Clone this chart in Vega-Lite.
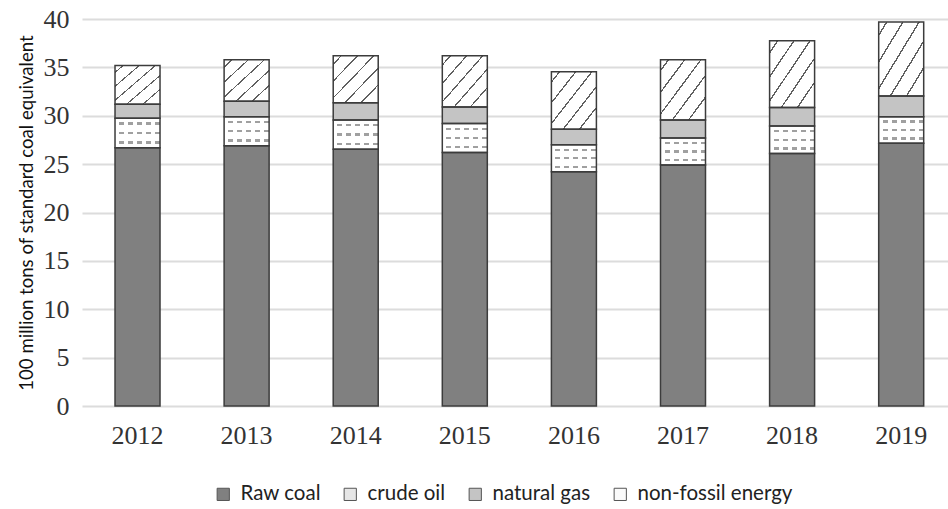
{
  "$schema": "https://vega.github.io/schema/vega-lite/v6.json",
  "width": 866,
  "height": 387,
  "autosize": {"type": "none"},
  "padding": {"left": 82, "top": 19, "right": 0, "bottom": 103},
  "background": "white",
  "config": {"view": {"stroke": null}},
  "data": {
    "values": [
      {"year": "2012", "source": "Raw coal", "value": 26.7},
      {"year": "2012", "source": "crude oil", "value": 3.05},
      {"year": "2012", "source": "natural gas", "value": 1.45},
      {"year": "2012", "source": "non-fossil energy", "value": 4.0},
      {"year": "2013", "source": "Raw coal", "value": 26.9},
      {"year": "2013", "source": "crude oil", "value": 3.0},
      {"year": "2013", "source": "natural gas", "value": 1.6},
      {"year": "2013", "source": "non-fossil energy", "value": 4.3},
      {"year": "2014", "source": "Raw coal", "value": 26.55},
      {"year": "2014", "source": "crude oil", "value": 3.0},
      {"year": "2014", "source": "natural gas", "value": 1.8},
      {"year": "2014", "source": "non-fossil energy", "value": 4.85},
      {"year": "2015", "source": "Raw coal", "value": 26.2},
      {"year": "2015", "source": "crude oil", "value": 3.0},
      {"year": "2015", "source": "natural gas", "value": 1.7},
      {"year": "2015", "source": "non-fossil energy", "value": 5.3},
      {"year": "2016", "source": "Raw coal", "value": 24.2},
      {"year": "2016", "source": "crude oil", "value": 2.8},
      {"year": "2016", "source": "natural gas", "value": 1.6},
      {"year": "2016", "source": "non-fossil energy", "value": 5.95},
      {"year": "2017", "source": "Raw coal", "value": 24.9},
      {"year": "2017", "source": "crude oil", "value": 2.8},
      {"year": "2017", "source": "natural gas", "value": 1.85},
      {"year": "2017", "source": "non-fossil energy", "value": 6.25},
      {"year": "2018", "source": "Raw coal", "value": 26.1},
      {"year": "2018", "source": "crude oil", "value": 2.85},
      {"year": "2018", "source": "natural gas", "value": 1.9},
      {"year": "2018", "source": "non-fossil energy", "value": 6.9},
      {"year": "2019", "source": "Raw coal", "value": 27.15},
      {"year": "2019", "source": "crude oil", "value": 2.75},
      {"year": "2019", "source": "natural gas", "value": 2.15},
      {"year": "2019", "source": "non-fossil energy", "value": 7.65}
    ]
  },
  "transform": [
    {"stack": "value", "groupby": ["year"], "sort": [{"field": "source", "order": "ascending"}], "as": ["v0", "v1"]}
  ],
  "encoding": {
    "x": {
      "field": "year",
      "type": "ordinal",
      "scale": {"paddingInner": 0.5875, "paddingOuter": 0.2627, "align": 0.576},
      "axis": {
        "title": null,
        "labelAngle": 0,
        "domain": false,
        "ticks": false,
        "grid": false,
        "labelFont": "Liberation Serif",
        "labelFontSize": 26,
        "labelColor": "#333333",
        "labelPadding": 16
      }
    },
    "y": {
      "field": "v1",
      "type": "quantitative",
      "scale": {"domain": [0, 40], "nice": false},
      "axis": {
        "values": [0, 5, 10, 15, 20, 25, 30, 35, 40],
        "domain": false,
        "ticks": false,
        "grid": true,
        "gridColor": "#dcdcdc",
        "gridWidth": 2,
        "labelFont": "Liberation Serif",
        "labelFontSize": 26,
        "labelColor": "#333333",
        "labelPadding": 13,
        "title": "100 million tons of standard coal equivalent",
        "titleFont": "Lato",
        "titleFontSize": 18.6,
        "titleFontWeight": "normal",
        "titleColor": "#111111",
        "titlePadding": 7
      }
    },
    "y2": {"field": "v0"}
  },
  "layer": [
    {
      "mark": {"type": "bar"},
      "encoding": {
        "color": {
          "field": "source",
          "type": "nominal",
          "scale": {
            "domain": ["Raw coal", "crude oil", "natural gas", "non-fossil energy"],
            "range": ["#808080", "#e6e6e6", "#c4c4c4", "#fafafa"]
          },
          "legend": {
            "orient": "none",
            "legendX": 131,
            "legendY": 465,
            "direction": "horizontal",
            "title": null,
            "symbolType": "square",
            "symbolSize": 150,
            "symbolStrokeColor": "#555555",
            "symbolStrokeWidth": 1,
            "labelFont": "Lato",
            "labelFontSize": 20.5,
            "labelColor": "#222222",
            "labelOffset": 7,
            "columnPadding": 19
          }
        }
      }
    },
    {
      "transform": [{"filter": "datum.source === 'crude oil'"}],
      "mark": {
        "type": "bar",
        "fill": {
          "gradient": "linear", "x1": 0, "y1": 0, "x2": 0, "y2": 1,
          "stops": [
            {"offset": 0, "color": "#ffffff"},
            {"offset": 0.14, "color": "#ffffff"},
            {"offset": 0.14, "color": "#a0a0a0"},
            {"offset": 0.22, "color": "#a0a0a0"},
            {"offset": 0.22, "color": "#ffffff"},
            {"offset": 0.46, "color": "#ffffff"},
            {"offset": 0.46, "color": "#a0a0a0"},
            {"offset": 0.54, "color": "#a0a0a0"},
            {"offset": 0.54, "color": "#ffffff"},
            {"offset": 0.78, "color": "#ffffff"},
            {"offset": 0.78, "color": "#a0a0a0"},
            {"offset": 0.86, "color": "#a0a0a0"},
            {"offset": 0.86, "color": "#ffffff"},
            {"offset": 1, "color": "#ffffff"}
          ]
        }
      }
    },
    {
      "transform": [{"filter": "datum.source === 'crude oil'"}],
      "mark": {
        "type": "bar",
        "fill": {
          "gradient": "linear", "x1": 0, "y1": 0, "x2": 1, "y2": 0,
          "stops": [
            {"offset": 0, "color": "rgba(255,255,255,1)"},
            {"offset": 0.09, "color": "rgba(255,255,255,1)"},
            {"offset": 0.09, "color": "rgba(255,255,255,0)"},
            {"offset": 0.2, "color": "rgba(255,255,255,0)"},
            {"offset": 0.2, "color": "rgba(255,255,255,1)"},
            {"offset": 0.29, "color": "rgba(255,255,255,1)"},
            {"offset": 0.29, "color": "rgba(255,255,255,0)"},
            {"offset": 0.4, "color": "rgba(255,255,255,0)"},
            {"offset": 0.4, "color": "rgba(255,255,255,1)"},
            {"offset": 0.49, "color": "rgba(255,255,255,1)"},
            {"offset": 0.49, "color": "rgba(255,255,255,0)"},
            {"offset": 0.6, "color": "rgba(255,255,255,0)"},
            {"offset": 0.6, "color": "rgba(255,255,255,1)"},
            {"offset": 0.69, "color": "rgba(255,255,255,1)"},
            {"offset": 0.69, "color": "rgba(255,255,255,0)"},
            {"offset": 0.8, "color": "rgba(255,255,255,0)"},
            {"offset": 0.8, "color": "rgba(255,255,255,1)"},
            {"offset": 0.89, "color": "rgba(255,255,255,1)"},
            {"offset": 0.89, "color": "rgba(255,255,255,0)"},
            {"offset": 1, "color": "rgba(255,255,255,0)"}
          ]
        }
      }
    },
    {
      "transform": [{"filter": "datum.source === 'non-fossil energy'"}],
      "mark": {
        "type": "bar",
        "fill": {
          "gradient": "linear", "x1": 0, "y1": 0, "x2": 1, "y2": 1,
          "stops": [
            {"offset": 0, "color": "#ffffff"},
            {"offset": 0.081, "color": "#ffffff"},
            {"offset": 0.081, "color": "#606060"},
            {"offset": 0.099, "color": "#606060"},
            {"offset": 0.099, "color": "#ffffff"},
            {"offset": 0.261, "color": "#ffffff"},
            {"offset": 0.261, "color": "#606060"},
            {"offset": 0.279, "color": "#606060"},
            {"offset": 0.279, "color": "#ffffff"},
            {"offset": 0.441, "color": "#ffffff"},
            {"offset": 0.441, "color": "#606060"},
            {"offset": 0.459, "color": "#606060"},
            {"offset": 0.459, "color": "#ffffff"},
            {"offset": 0.621, "color": "#ffffff"},
            {"offset": 0.621, "color": "#606060"},
            {"offset": 0.639, "color": "#606060"},
            {"offset": 0.639, "color": "#ffffff"},
            {"offset": 0.801, "color": "#ffffff"},
            {"offset": 0.801, "color": "#606060"},
            {"offset": 0.819, "color": "#606060"},
            {"offset": 0.819, "color": "#ffffff"},
            {"offset": 1, "color": "#ffffff"}
          ]
        }
      }
    },
    {
      "mark": {"type": "bar", "fillOpacity": 0, "stroke": "#3c3c3c", "strokeWidth": 1.5}
    }
  ]
}
